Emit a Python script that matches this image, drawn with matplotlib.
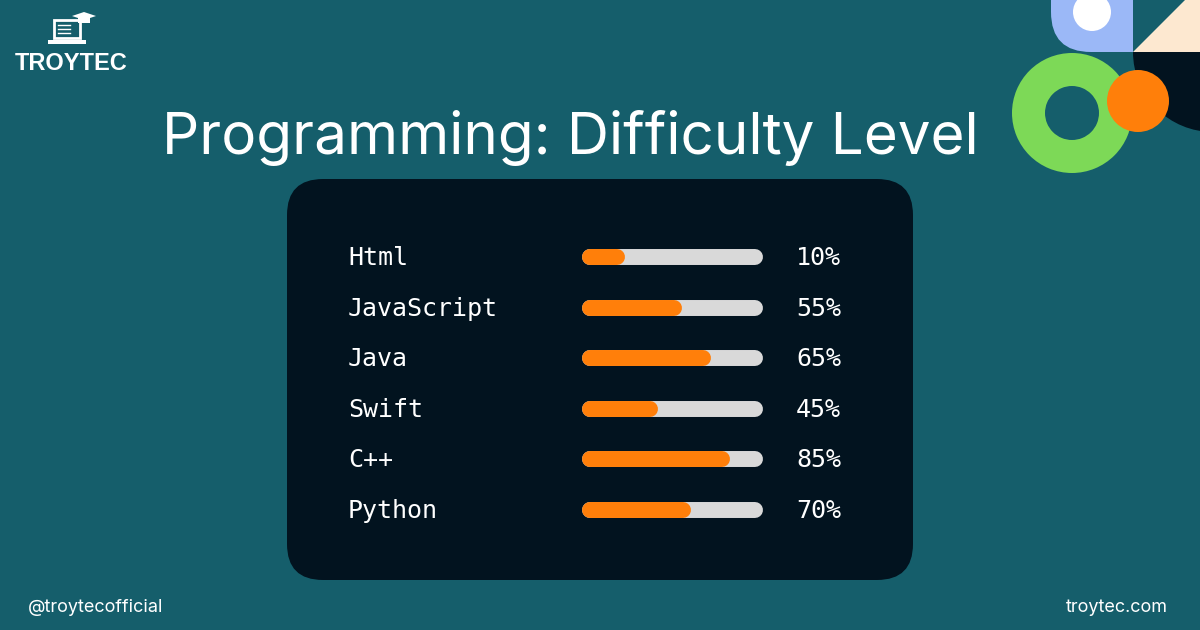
import matplotlib
matplotlib.use("Agg")
import matplotlib.pyplot as plt
from matplotlib.patches import Circle, Wedge, Polygon, FancyBboxPatch, Rectangle

languages = ["Html", "JavaScript", "Java", "Swift", "C++", "Python"]
labels    = ["10%", "55%", "65%", "45%", "85%", "70%"]
fill      = [0.24, 0.55, 0.71, 0.42, 0.82, 0.60]   # drawn fill fraction of each track

BG     = "#155e6b"
CARD   = "#02131f"
ORANGE = "#ff7f0a"
TRACK  = "#d9d9d9"

fig = plt.figure(figsize=(12, 6.3), dpi=100, facecolor=BG)
ax = fig.add_axes([0, 0, 1, 1])
ax.set_xlim(0, 1200)
ax.set_ylim(630, 0)
ax.axis("off")

# ── decorative shapes, top right ─────────────────────────────────────────
ax.add_patch(FancyBboxPatch((1051, -60), 82, 112, boxstyle="round,pad=0,rounding_size=40",
                            fc="#9bb8f7", ec="none"))
ax.add_patch(Rectangle((1093, -60), 40, 112, fc="#9bb8f7", ec="none"))
ax.add_patch(Circle((1092, 12), 19, fc="white", ec="none"))
ax.add_patch(Polygon([(1133, 52), (1185, 0), (1200, 0), (1200, 52)], fc="#fde8d0", ec="none"))
ax.add_patch(Wedge((1213, 52), 80, 90, 180, fc=CARD, ec="none"))
ax.add_patch(Wedge((1072, 113), 60, 0, 360, width=33, fc="#7dd957", ec="none"))
ax.add_patch(Circle((1138, 101), 31, fc=ORANGE, ec="none"))

# ── logo ─────────────────────────────────────────────────────────────────
ax.add_patch(Rectangle((54, 20), 26, 18, fc="none", ec="white", lw=2))
ax.add_patch(Rectangle((48, 40), 38, 4, fc="white", ec="none"))
ax.add_patch(Polygon([(72, 16), (84, 12), (96, 16), (84, 20)], fc="white", ec="none"))
ax.add_patch(Rectangle((78, 17), 12, 6, fc="white", ec="none"))
for yy in (25, 29, 33):
    ax.plot([58, 70], [yy, yy], color="white", lw=1)
ax.text(71, 63, "TROYTEC", color="white", fontsize=17, fontweight="bold",
        family="Liberation Sans", ha="center", va="center")

# ── title ────────────────────────────────────────────────────────────────
ax.text(570, 138, "Programming: Difficulty Level", color="white", fontsize=42,
        family="Inter", ha="center", va="center")

# ── card ─────────────────────────────────────────────────────────────────
ax.add_patch(FancyBboxPatch((287, 179), 626, 401, boxstyle="round,pad=0,rounding_size=36",
                            fc=CARD, ec="none"))

x0, x1, cap = 582, 763, 8
for i, (lang, lab, f) in enumerate(zip(languages, labels, fill)):
    y = 257 + i * 50.6
    ax.text(348, y + 1, lang, color="white", fontsize=18, family="DejaVu Sans Mono",
            ha="left", va="center")
    ax.plot([x0 + cap, x1 - cap], [y, y], color=TRACK, lw=11.5, solid_capstyle="round")
    xe = x0 + f * (x1 - x0)
    ax.plot([x0 + cap, xe - cap], [y, y], color=ORANGE, lw=11.5, solid_capstyle="round")
    ax.text(796, y + 1, lab, color="white", fontsize=18, family="DejaVu Sans Mono",
            ha="left", va="center")

# ── footer ───────────────────────────────────────────────────────────────
ax.text(28, 607, "@troytecofficial", color="white", fontsize=13, family="Inter",
        ha="left", va="center")
ax.text(1168, 607, "troytec.com", color="white", fontsize=13, family="Inter",
        ha="right", va="center")

fig.savefig("out.png", dpi=100, facecolor=BG)
